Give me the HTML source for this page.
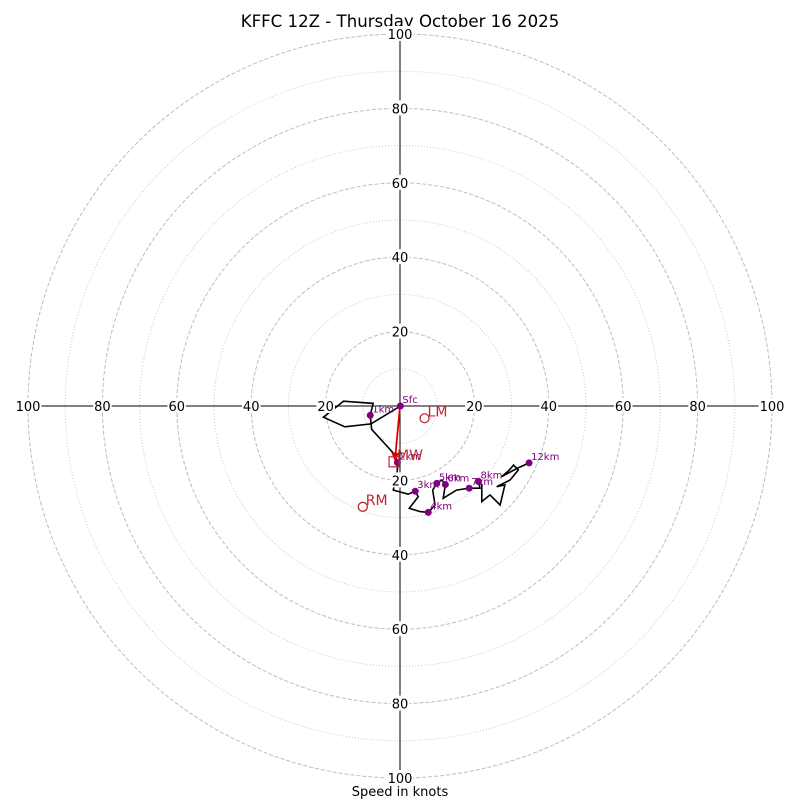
<!DOCTYPE html>
<html><head><meta charset="utf-8"><style>
body{margin:0;background:#fff;}
svg{display:block;font-family:"DejaVu Sans","Liberation Sans",sans-serif;}
</style></head><body>
<svg id="chart" width="800" height="800" xmlns="http://www.w3.org/2000/svg">
<text x="400" y="27" text-anchor="middle" font-size="16.6">KFFC 12Z - Thursday October 16 2025</text>
<text x="400" y="796" text-anchor="middle" font-size="13">Speed in knots</text>
<g id="rings"></g><g id="axes"></g><g id="trace"></g><g id="marks"></g><g id="ticks"></g>
</svg>
<script>
const ringDashed=[20,40,60,80,100];
const ringDotted=[10,30,50,70,90];
const tickVals=[20,40,60,80,100];
const traceU=[0.1,-7.8,-14.8,-20.6,-15.2,-7.2,-8.0,-7.6,-1.3,-0.7,-0.7,-1.8,2.2,4.1,4.9,2.5,5.4,7.6,9.4,8.8,9.9,11.2,12.2,11.6,15.2,18.6,21.5,21.1,22.0,22.0,24.2,26.9,28.2,26.0,29.6,31.8,30.5,29.4,27.3,31.4,34.7];
const traceV=[0,-4.8,-5.6,-3.0,1.3,0.7,-2.5,-6.3,-13.2,-15.2,-17.2,-22.6,-23.7,-22.9,-24.4,-27.5,-28.4,-28.6,-26.6,-22.6,-20.8,-19.9,-21.1,-24.8,-22.6,-22.1,-22.1,-20.3,-21.2,-25.7,-23.9,-26.6,-21.2,-21.7,-19.9,-17.2,-15.9,-17.2,-19.0,-16.8,-15.3];
const markLabels=["Sfc","1km","2km","3km","4km","5km","6km","7km","8km","12km"];
const markU=[0.1,-8.0,-0.7,4.1,7.6,9.9,12.2,18.6,21.1,34.7];
const markV=[0,-2.5,-15.2,-22.9,-28.6,-20.8,-21.1,-22.1,-20.3,-15.3];
const lmU=6.6, lmV=-3.3, rmU=-10.0, rmV=-27.1, mwU=-1.6, mwV=-15.0;

const CX=400, CY=406, S=3.72;
const px=u=>CX+u*S, py=v=>CY-v*S;
const NS="http://www.w3.org/2000/svg";
function mk(tag,parent,attrs){const e=document.createElementNS(NS,tag);for(const k in attrs)e.setAttribute(k,attrs[k]);document.getElementById(parent).appendChild(e);return e;}

ringDotted.forEach(r=>{const c=mk('circle','rings',{cx:CX,cy:CY,r:r*S,fill:'none',stroke:'#c8c8c8','stroke-width':1,'stroke-dasharray':'1,2'});

});
ringDashed.forEach(r=>{const c=mk('circle','rings',{cx:CX,cy:CY,r:r*S,fill:'none',stroke:'#bdbdbd','stroke-width':1,'stroke-dasharray':'4,2'});

});

let a=mk('line','axes',{x1:px(-100),y1:CY,x2:px(100),y2:CY,stroke:'#000','stroke-width':1});


a=mk('line','axes',{x1:CX,y1:py(100),x2:CX,y2:py(-100),stroke:'#000','stroke-width':1});



function tick(x,y,txt,name){const w=txt.length*8.3+2;
const b=mk('rect','ticks',{x:x-w/2,y:y-8,width:w,height:15,fill:'#fff'});


const t=mk('text','ticks',{x:x,y:y+5,'text-anchor':'middle','font-size':13});t.textContent=txt;

}
tickVals.forEach(v=>{tick(px(v),CY,String(v),'x-tick-pos-'+v);tick(px(-v),CY,String(v),'x-tick-neg-'+v);tick(CX,py(v),String(v),'y-tick-pos-'+v);tick(CX,py(-v),String(v),'y-tick-neg-'+v);});

const pts=traceU.map((u,i)=>px(u).toFixed(1)+','+py(traceV[i]).toFixed(1)).join(' ');
const pl=mk('polyline','trace',{points:pts,fill:'none',stroke:'#000','stroke-width':1.6});



const ar=mk('line','marks',{x1:px(0),y1:py(0),x2:px(mwU+0.3),y2:py(mwV+1),stroke:'#e00000','stroke-width':1.8});


const hx=px(mwU+0.3),hy=py(mwV+1);
const ah=mk('polygon','marks',{points:`${hx},${hy+4} ${hx-4},${hy-6} ${hx+4},${hy-5}`,fill:'#e00000'});



markU.forEach((u,i)=>{const c=mk('circle','marks',{cx:px(u),cy:py(markV[i]),r:3.5,fill:'#800080'});


const t=mk('text','marks',{x:px(u)+2,y:py(markV[i])-3,'font-size':10,fill:'#800080'});t.textContent=markLabels[i];

});

[[lmU,lmV,'LM'],[rmU,rmV,'RM']].forEach(d=>{const c=mk('circle','marks',{cx:px(d[0]),cy:py(d[1]),r:4.5,fill:'none',stroke:'#c0282d','stroke-width':1.3});


const t=mk('text','marks',{x:px(d[0])+3,y:py(d[1])-2,'font-size':14,fill:'#c0282d'});t.textContent=d[2];

});
const sq=mk('rect','marks',{x:px(mwU)-5,y:py(mwV)-5,width:10,height:10,fill:'none',stroke:'#c0282d','stroke-width':1.2});


const mt=mk('text','marks',{x:px(mwU)+3,y:py(mwV)-2,'font-size':14,fill:'#c0282d'});mt.textContent='MW';


</script>
</body></html>
